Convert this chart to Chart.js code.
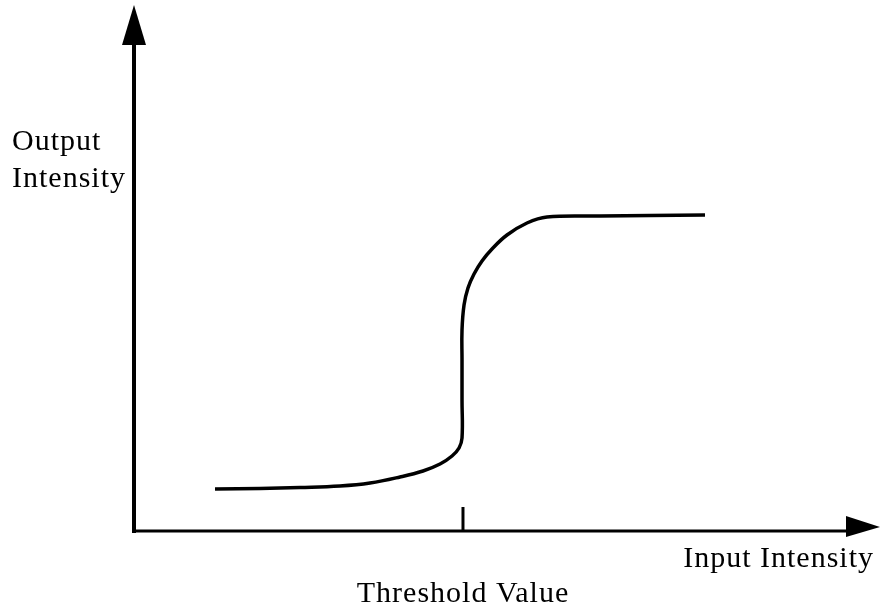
<!DOCTYPE html>
<html lang="en">
<head>
    <meta charset="UTF-8">
    <title>Threshold response</title>
    <script src="https://cdn.jsdelivr.net/npm/chart.js@4.4.4/dist/chart.umd.min.js"></script>
</head>
<body style="margin: 0; background: #fff;">
    <div style="width: 883px; height: 611px; position: relative;">
        <canvas id="curveChart"></canvas>
    </div>

    <script>
        // Valeurs (axes 0..100 en unités arbitraires)
        const inputValues = [10.86, 16.89, 22.25, 27.61, 31.64, 35.66, 38.74, 41.02, 42.63, 43.57, 43.97, 43.97,
                             43.97, 43.97, 44.24, 44.77, 45.58, 46.65, 47.99, 50.00, 52.68, 55.36, 62.47, 69.17, 76.54];
        const outputValues = [7.98, 8.08, 8.27, 8.56, 9.13, 10.27, 11.41, 12.74, 14.26, 15.78, 17.68, 24.90,
                              32.51, 38.21, 42.97, 46.20, 48.86, 51.33, 53.61, 56.27, 58.56, 59.70, 59.89, 59.98, 60.08];
        const thresholdValue = 44.1;
        const axisMax = 100;
        const yTitle = ['Output', 'Intensity'];
        const xTitle = 'Input Intensity';
        const thresholdLabel = 'Threshold Value';

        const points = inputValues.map((x, i) => ({ x: x, y: outputValues[i] }));

        // Axes flechees, graduation du seuil et textes
        const axesPlugin = {
            id: 'arrowAxes',
            afterDatasetsDraw(chart) {
                const ctx = chart.ctx;
                const xs = chart.scales.x, ys = chart.scales.y;
                const x0 = xs.getPixelForValue(0), y0 = ys.getPixelForValue(0);
                const xEnd = xs.getPixelForValue(axisMax), yEnd = ys.getPixelForValue(axisMax);
                ctx.save();
                ctx.strokeStyle = '#000';
                ctx.fillStyle = '#000';
                ctx.lineCap = 'butt';

                // axe vertical
                ctx.lineWidth = 4;
                ctx.beginPath();
                ctx.moveTo(x0, y0 + 2);
                ctx.lineTo(x0, yEnd + 38);
                ctx.stroke();
                ctx.beginPath();
                ctx.moveTo(x0, yEnd);
                ctx.lineTo(x0 - 12, yEnd + 40);
                ctx.lineTo(x0 + 12, yEnd + 40);
                ctx.closePath();
                ctx.fill();

                // axe horizontal
                ctx.lineWidth = 3;
                ctx.beginPath();
                ctx.moveTo(x0 - 2, y0);
                ctx.lineTo(xEnd - 31, y0);
                ctx.stroke();
                ctx.beginPath();
                ctx.moveTo(xEnd, y0 - 4);
                ctx.lineTo(xEnd - 34, y0 - 15);
                ctx.lineTo(xEnd - 34, y0 + 6);
                ctx.closePath();
                ctx.fill();

                // graduation du seuil
                const tx = xs.getPixelForValue(thresholdValue);
                ctx.lineWidth = 3;
                ctx.beginPath();
                ctx.moveTo(tx, y0);
                ctx.lineTo(tx, y0 - 24);
                ctx.stroke();

                // textes
                ctx.font = '30px "Liberation Serif", serif';
                ctx.letterSpacing = '1px';
                ctx.textBaseline = 'alphabetic';
                ctx.textAlign = 'left';
                ctx.fillText(yTitle[0], 12, 150);
                ctx.fillText(yTitle[1], 12, 187);
                ctx.textAlign = 'right';
                ctx.fillText(xTitle, 874, 567);
                ctx.textAlign = 'center';
                ctx.fillText(thresholdLabel, 463, 602);
                ctx.restore();
            }
        };

        function initChart() {
            const ctx = document.getElementById('curveChart').getContext('2d');
            new Chart(ctx, {
                type: 'scatter',
                data: {
                    datasets: [{
                        data: points,
                        showLine: true,
                        borderColor: '#000',
                        borderWidth: 3.5,
                        pointRadius: 0,
                        tension: 0.4,
                        fill: false
                    }]
                },
                options: {
                    responsive: true,
                    maintainAspectRatio: false,
                    animation: false,
                    layout: { padding: { left: 134, right: 3, top: 5, bottom: 80 } },
                    plugins: { legend: { display: false }, tooltip: { enabled: false } },
                    scales: {
                        x: { type: 'linear', min: 0, max: axisMax, display: false },
                        y: { type: 'linear', min: 0, max: axisMax, display: false }
                    }
                },
                plugins: [axesPlugin]
            });
        }

        window.onload = initChart;
    </script>
</body>
</html>
